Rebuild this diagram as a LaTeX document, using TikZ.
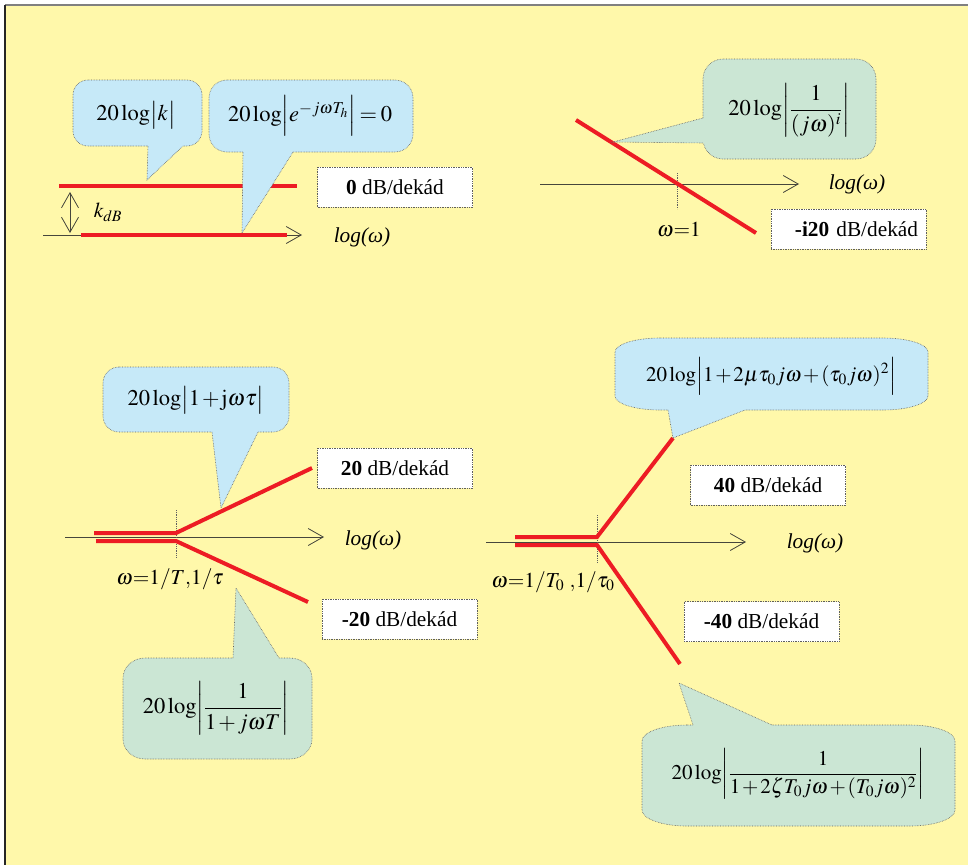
\documentclass[tikz,border=0pt]{standalone}
\usepackage{amsmath}
\usepackage{mathptmx}
\usepackage{fontspec}
\setmainfont{Liberation Serif}
\usetikzlibrary{arrows.meta}

\definecolor{bg}{RGB}{255,248,170}
\definecolor{bubbleblue}{RGB}{198,233,248}
\definecolor{bubblegreen}{RGB}{203,230,212}
\definecolor{plotred}{RGB}{237,28,36}
\definecolor{axisgray}{RGB}{70,70,60}
\definecolor{edgegray}{RGB}{95,95,95}

% tight operator spacing, "log" set close to the bars that follow it
\newcommand\tlog{\medmuskip=1.5mu\relax\thickmuskip=3mu\relax 20\,\mathrm{log}}

% rounded box with elliptical corners: fill colour, x1, y1, x2, y2, rx, ry
\newcommand\bubblebox[7]{%
  \path[fill=#1, bubbleedge] (#2+#6,#3) -- (#4-#6,#3)
    arc[start angle=270, end angle=360, x radius=#6, y radius=#7]
    -- (#4,#5-#7)
    arc[start angle=0, end angle=90, x radius=#6, y radius=#7]
    -- (#2+#6,#5)
    arc[start angle=90, end angle=180, x radius=#6, y radius=#7]
    -- (#2,#3+#7)
    arc[start angle=180, end angle=270, x radius=#6, y radius=#7]
    -- cycle;}
% pointer of a bubble: fill colour, base point 1, base point 2, tip, inward shift
\newcommand\bubbletail[5]{%
  \fill[#1] #2 ++(#5) -- #2 -- #4 -- #3 -- ++(#5) -- cycle;
  \draw[bubbleedge] #2 -- #4 -- #3;}

\tikzset{
  redline/.style={plotred, line width=4pt},
  axis/.style={axisgray, line width=0.8pt,
    -{Straight Barb[length=15pt, width=17pt, line width=0.8pt]}},
  bothway/.style={axisgray, line width=0.8pt,
    {Straight Barb[length=15pt, width=17pt, line width=0.8pt]}-{Straight Barb[length=15pt, width=17pt, line width=0.8pt]}},
  guide/.style={edgegray, densely dotted, line width=0.8pt},
  bubbleedge/.style={draw=edgegray, densely dotted, line width=0.6pt},
  labelbox/.style={draw=edgegray, densely dotted, line width=0.7pt, fill=white,
    minimum width=155pt, minimum height=40pt, inner sep=0pt},
  formula/.style={font=\fontsize{22.5}{27}\selectfont, inner sep=0pt},
  longformula/.style={font=\fontsize{21}{25}\selectfont, inner sep=0pt},
  plain/.style={inner sep=0pt},
}

\begin{document}
\begin{tikzpicture}[x=1pt, y=-1pt, font=\fontsize{21.3}{25}\selectfont]
\useasboundingbox (0,0) rectangle (968,865);
% page and frame
\fill[white] (0,0) rectangle (968,865);
\fill[bg] (5,5) rectangle (968,865);
\draw[gray, line width=1.5pt] (5,5) -- (968,5);
\draw[black!85, line width=1.5pt] (5,5) -- (5,865);

% ---------- constant gain and dead time ----------
\coordinate (a1s) at (43,235);  \coordinate (a1e) at (302,235);
\coordinate (k1a) at (59,186);  \coordinate (k1b) at (297,186);
\coordinate (k2a) at (81,235);  \coordinate (k2b) at (287,235);
\coordinate (kt) at (70,192);   \coordinate (kb) at (70,233);
\draw[axis] (a1s) -- (a1e);
\draw[redline] (k1a) -- (k1b);
\draw[redline] (k2a) -- (k2b);
\draw[bothway] (kt) -- (kb);
\node[plain] (kdb) at (108,212) {$k_{dB}$};
\node[plain] (lw1) at (362,237) {\textit{log(ω)}};

\bubblebox{bubbleblue}{73}{80}{202}{146}{15}{15}
\bubbletail{bubbleblue}{(148,146)}{(183,146)}{(147,180)}{0,-3}
\node[formula] (f1) at (136,115) {$\tlog\bigl|k\bigr|$};

\bubblebox{bubbleblue}{209}{80}{413}{152}{18}{18}
\bubbletail{bubbleblue}{(243,152)}{(293,152)}{(242,233)}{0,-3}
\node[formula] (f2) at (310,116) {$\tlog\Bigl|e^{-j\omega T_h}\Bigr|=0$};

\node[labelbox] (s0) at (395,187) {\textbf{0} dB/dekád};

% ---------- integrator ----------
\coordinate (a2s) at (540,184); \coordinate (a2e) at (799,184);
\coordinate (r2a) at (576,120); \coordinate (r2b) at (756,233);
\coordinate (g2t) at (677,173); \coordinate (g2b) at (677,209);
\draw[axis] (a2s) -- (a2e);
\draw[guide] (g2t) -- (g2b);
\draw[redline] (r2a) -- (r2b);
\node[plain] (lw2) at (857,184) {\textit{log(ω)}};
\node[plain] (w1) at (679,230) {$\omega{=}1$};

\bubblebox{bubblegreen}{703}{59}{876}{159}{20}{20}
\bubbletail{bubblegreen}{(703,118)}{(703,143)}{(613,142)}{3,0}
\node[formula] (f3) at (789,110) {$\tlog\!\left|\dfrac{1}{(j\omega)^i}\right|$};

\node[labelbox, text width=139pt, align=right, inner xsep=8pt] (si) at (848.5,229) {\textbf{-i20} dB/dekád};

% ---------- first order lead / lag ----------
\coordinate (a3s) at (65,537);  \coordinate (a3e) at (324,537);
\coordinate (u3a) at (94,533);  \coordinate (u3b) at (176,533); \coordinate (u3c) at (312,468);
\coordinate (l3a) at (96,541);  \coordinate (l3b) at (176,541); \coordinate (l3c) at (308,602);
\coordinate (g3t) at (176,510); \coordinate (g3b) at (176,557);
\draw[axis] (a3s) -- (a3e);
\draw[guide] (g3t) -- (g3b);
\draw[redline] (u3a) -- (u3b) -- (u3c);
\draw[redline] (l3a) -- (l3b) -- (l3c);
\node[plain] (lw3) at (373,540) {\textit{log(ω)}};
\node[plain] (w3) at (170,579) {$\omega{=}1/T{,}1/\tau$};

\bubblebox{bubbleblue}{103}{367}{289}{432}{16}{16}
\bubbletail{bubbleblue}{(212,432)}{(258,432)}{(221,508)}{0,-3}
\node[formula] (f4) at (196,400) {$\tlog\bigl|1+\mathrm{j}\omega\tau\bigr|$};

\bubblebox{bubblegreen}{123}{658}{312}{759}{22}{20}
\bubbletail{bubblegreen}{(233,658)}{(279,658)}{(236,588)}{0,3}
\node[formula] (f5) at (216,708) {$\tlog\!\left|\dfrac{1}{1+j\omega T}\right|$};

\node[labelbox] (s20) at (395,468) {\textbf{20} dB/dekád};
\node[labelbox] (sm20) at (399.5,619) {\textbf{-20} dB/dekád};

% ---------- second order terms ----------
\coordinate (a4s) at (486,542); \coordinate (a4e) at (746,542);
\coordinate (u4a) at (515,537); \coordinate (u4b) at (597,537); \coordinate (u4c) at (673,438);
\coordinate (l4a) at (515,545); \coordinate (l4b) at (597,545); \coordinate (l4c) at (680,664);
\coordinate (g4t) at (597,515); \coordinate (g4b) at (597,562);
\draw[axis] (a4s) -- (a4e);
\draw[guide] (g4t) -- (g4b);
\draw[redline] (u4a) -- (u4b) -- (u4c);
\draw[redline] (l4a) -- (l4b) -- (l4c);
\node[plain] (lw4) at (815,543) {\textit{log(ω)}};
\node[plain] (w4) at (553,582) {$\omega{=}1/T_0\ {,}1/\tau_0$};

\bubblebox{bubbleblue}{615}{338}{928}{410}{45}{14}
\bubbletail{bubbleblue}{(668,410)}{(745,410)}{(673,438)}{0,-3}
\node[longformula] (f6) at (771,376) {$\tlog\Bigl|1+2\mu\tau_0 j\omega+(\tau_0 j\omega)^2\Bigr|$};

\bubblebox{bubblegreen}{642}{725}{955}{826}{45}{16}
\bubbletail{bubblegreen}{(693,725)}{(772,725)}{(679,683)}{0,3}
\node[longformula] (f7) at (798,774) {$\tlog\!\left|\dfrac{1}{1+2\zeta T_0 j\omega+(T_0 j\omega)^2}\right|$};

\node[labelbox] (s40) at (768,485) {\textbf{40} dB/dekád};
\node[labelbox] (sm40) at (761.5,621.5) {\textbf{-40} dB/dekád};
\end{tikzpicture}
\end{document}
